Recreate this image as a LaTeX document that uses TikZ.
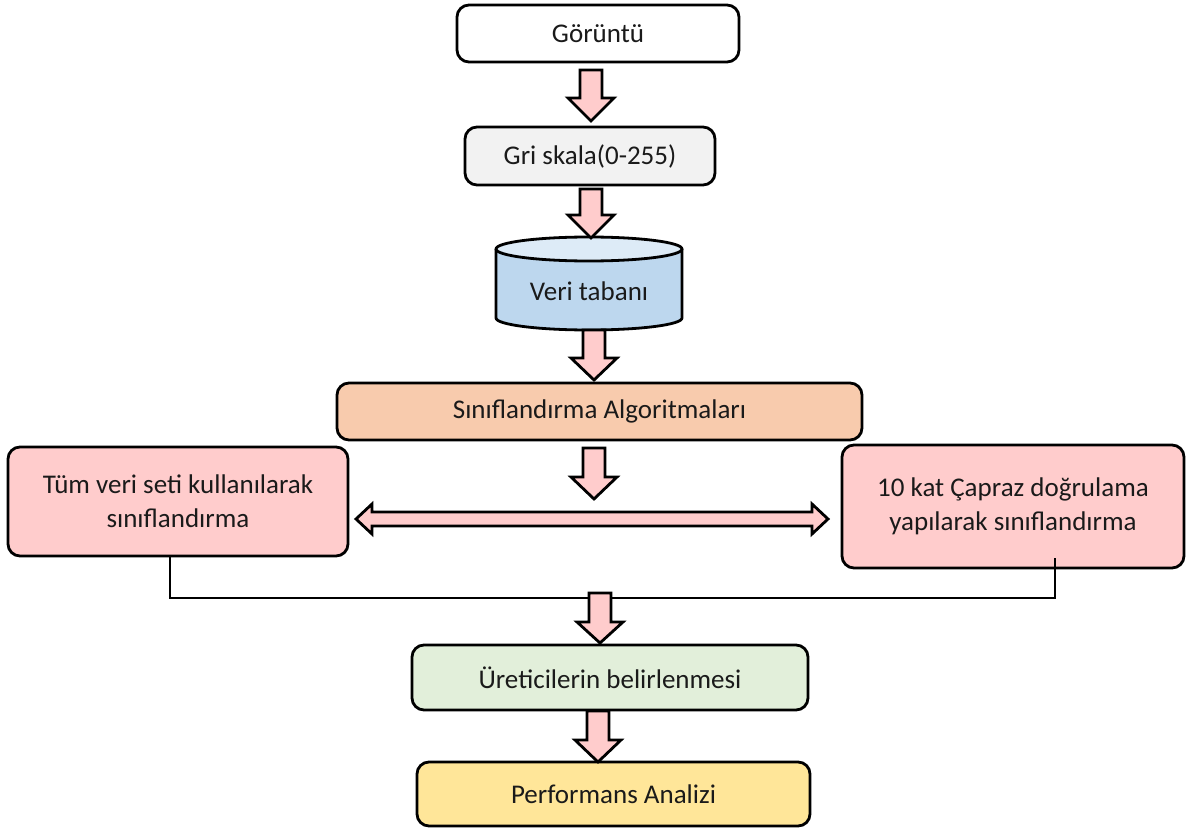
\documentclass[tikz,border=0pt]{standalone}
\usepackage{fontspec}
\setmainfont{Carlito}
\usetikzlibrary{calc}
\definecolor{grayfill}{HTML}{F2F2F2}
\definecolor{cylbody}{HTML}{BDD7EE}
\definecolor{cyltop}{HTML}{DDEBF7}
\definecolor{orangefill}{HTML}{F8CBAD}
\definecolor{pinkfill}{HTML}{FFCCCC}
\definecolor{greenfill}{HTML}{E2EFDA}
\definecolor{yellowfill}{HTML}{FFE699}
\definecolor{txt}{HTML}{1A1A1A}
\newcommand{\DArrowShape}[4]{%
  \draw[barrow] (#1-11,#2) -- (#1+11,#2) -- (#1+11,#3) -- (#1+23,#3) -- (#1,#4) -- (#1-23,#3) -- (#1-11,#3) -- cycle;}
\begin{document}
\begin{tikzpicture}[x=1pt,y=-1pt,
  box/.style={draw=black, line width=2.8pt, rounded corners=12pt, text=txt,
    font=\fontsize{27}{34}\selectfont, align=center, inner sep=0pt},
  barrow/.style={draw=black, line width=2.8pt, fill=pinkfill, line join=miter},
  link/.style={draw=black, line width=2.2pt}]
\useasboundingbox (0,0) rectangle (1186,829);

% nodes
\node[box, fill=white, minimum width=282pt, minimum height=57pt] (img) at (598,33.5) {Görüntü};
\node[box, fill=grayfill, minimum width=250pt, minimum height=58pt] (gray) at (590,156) {Gri skala(0-255)};

% cylinder
\fill[cylbody] (496,249) -- (496,318) arc[start angle=180, end angle=0, x radius=93, y radius=12] -- (682,249) -- cycle;
\draw[line width=2.8pt] (496,249) -- (496,318) arc[start angle=180, end angle=0, x radius=93, y radius=12] -- (682,249);
\draw[line width=2.8pt, fill=cyltop] (589,249) ellipse[x radius=93, y radius=12];
\node[text=txt, font=\fontsize{27}{34}\selectfont, minimum width=186pt, minimum height=93pt, inner sep=0pt] (db) at (589,291) {Veri tabanı};

\node[box, fill=orangefill, minimum width=525pt, minimum height=57pt] (alg) at (599.5,411.5) {Sınıflandırma Algoritmaları};
\node[box, fill=pinkfill, minimum width=340pt, minimum height=109pt] (left) at (178,501.5) {Tüm veri seti kullanılarak\\sınıflandırma};
\node[box, fill=pinkfill, minimum width=342pt, minimum height=123pt] (right) at (1013,506.5) {10 kat Çapraz doğrulama\\yapılarak sınıflandırma};
\node[box, fill=greenfill, minimum width=396pt, minimum height=65pt] (prod) at (610,677.5) {Üreticilerin belirlenmesi};
\node[box, fill=yellowfill, minimum width=393pt, minimum height=64pt] (perf) at (613.5,794) {Performans Analizi};

% block arrows
\DArrowShape{591}{70}{98}{121}
\DArrowShape{591}{189}{215}{238}
\DArrowShape{594}{330}{358}{380}
\DArrowShape{594}{448}{477}{499}

% double arrow
\draw[barrow] (356,519) -- (372,504) -- (372,512) -- (812,512) -- (812,504) -- (828,519) -- (812,534) -- (812,526) -- (372,526) -- (372,534) -- cycle;

% joining line
\coordinate (lj) at ($(left.south)+(-8,0)$);
\coordinate (rj) at ($(right.south)+(42,-11)$);
\draw[link] (lj) |- (1055,598) -- (rj);

\DArrowShape{600}{593}{622}{643}
\DArrowShape{598}{711}{740}{762}
\end{tikzpicture}
\end{document}
